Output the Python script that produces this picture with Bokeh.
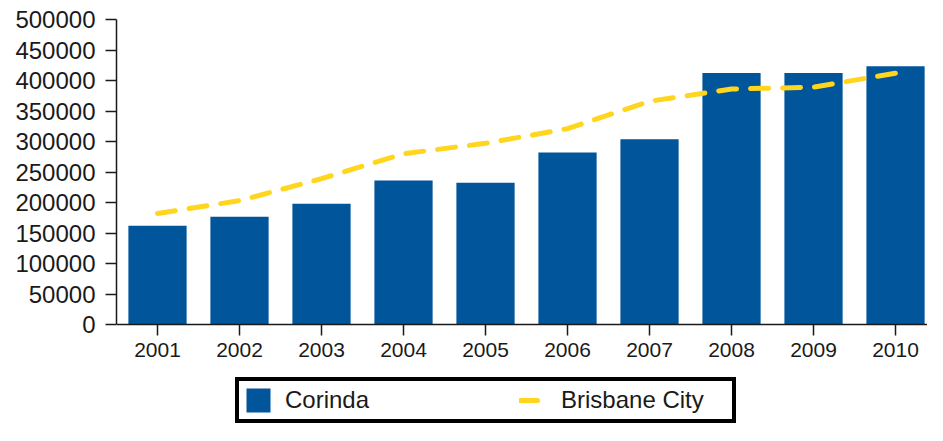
from bokeh.plotting import figure
from bokeh.models import (Range1d, FixedTicker, NumeralTickFormatter, Legend, LegendItem,
                          ColumnDataSource)
from bokeh.embed import file_html
from bokeh.resources import INLINE

# ---- data ----
years = [2001, 2002, 2003, 2004, 2005, 2006, 2007, 2008, 2009, 2010]
year_labels = ["2001", "2002", "2003", "2004", "2005", "2006", "2007", "2008", "2009", "2010"]
corinda = [162000, 176500, 198000, 236000, 232500, 282000, 303500, 412500, 412500, 423500]
brisbane = [182000, 203000, 239000, 280000, 297000, 321000, 366000, 386000, 389000, 412000]
y_ticks = [0, 50000, 100000, 150000, 200000, 250000, 300000, 350000, 400000, 450000, 500000]

src = ColumnDataSource(dict(year=years, corinda=corinda, brisbane=brisbane))

FONT = "Liberation Sans"
TXT = "#1a1a1a"

W, H = 927, 425
TOP, ZERO_Y = 19, 324          # screen rows of the 500000 and 0 levels
px_per_unit = 500000 / (ZERO_Y - TOP)
y_start = -(H - ZERO_Y) * px_per_unit

p = figure(width=W, height=H, output_backend="svg", toolbar_location=None,
           x_range=Range1d(2000.5, 2010.39), y_range=Range1d(y_start, 500000),
           min_border_left=116, min_border_right=0, min_border_top=TOP, min_border_bottom=0)

p.outline_line_color = None
p.xgrid.visible = False
p.ygrid.visible = False
p.background_fill_color = "white"
p.border_fill_color = "white"

bars = p.vbar(x="year", top="corinda", width=0.71, source=src,
              fill_color="#01559A", line_color=None)
line = p.line(x="year", y="brisbane", source=src, line_color="#FFD51E", line_width=5,
              line_dash="18 14", line_cap="round")

# axes
xa = p.xaxis[0]
xa.fixed_location = 0
xa.ticker = FixedTicker(ticks=years)
xa.major_label_overrides = {y: l for y, l in zip(years, year_labels)}
xa.major_tick_in = 0
xa.major_tick_out = 11
xa.minor_tick_line_color = None
xa.major_label_standoff = 7
xa.major_label_text_font = FONT
xa.major_label_text_font_size = "21px"
xa.major_label_text_color = TXT
xa.axis_line_color = TXT
xa.axis_line_width = 1.5
xa.major_tick_line_color = TXT
xa.major_tick_line_width = 1.5

ya = p.yaxis[0]
ya.bounds = (0, 500000)
ya.ticker = FixedTicker(ticks=y_ticks)
ya.formatter = NumeralTickFormatter(format="0")
ya.major_tick_in = 0
ya.major_tick_out = 11
ya.minor_tick_line_color = None
ya.major_label_standoff = 10
ya.major_label_text_font = FONT
ya.major_label_text_font_size = "24px"
ya.major_label_text_color = TXT
ya.axis_line_color = TXT
ya.axis_line_width = 1.5
ya.major_tick_line_color = TXT
ya.major_tick_line_width = 1.5

legend = Legend(items=[LegendItem(label="Corinda", renderers=[bars]),
                       LegendItem(label="Brisbane City", renderers=[line])],
                orientation="horizontal", location=(119, 2),
                glyph_width=30, glyph_height=30, padding=4, spacing=67,
                label_standoff=12, label_width=167,
                label_text_font=FONT, label_text_font_size="24px",
                label_text_color=TXT,
                border_line_color="black", border_line_width=4, border_line_alpha=1.0,
                background_fill_color="white", background_fill_alpha=1.0,
                margin=0)
p.add_layout(legend)

open("out.html", "w").write(file_html(p, INLINE))
